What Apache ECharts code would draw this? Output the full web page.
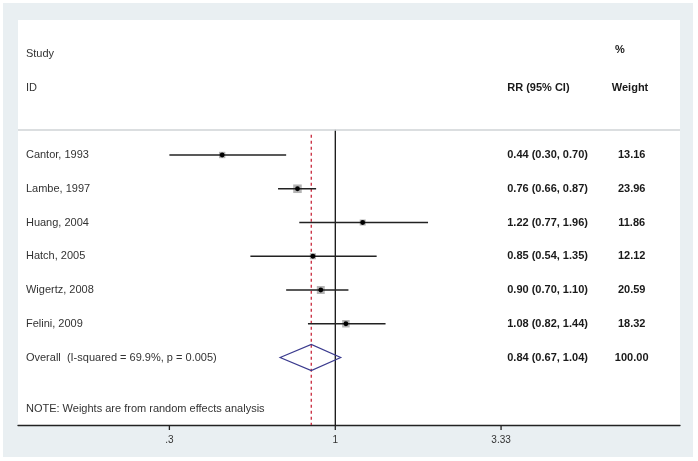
<!DOCTYPE html>
<html>
<head>
<meta charset="utf-8">
<script src="https://cdn.jsdelivr.net/npm/echarts@6/dist/echarts.min.js"></script>
<style>
html,body{margin:0;padding:0;background:#fff;}
#chart{width:698px;height:461px;}
</style>
</head>
<body>
<div id="chart"></div>
<script>
// ---- data ----
var studies = ['Cantor, 1993','Lambe, 1997','Huang, 2004','Hatch, 2005','Wigertz, 2008','Felini, 2009'];
var rr      = [0.44, 0.76, 1.22, 0.85, 0.90, 1.08];
var ciLow   = [0.30, 0.66, 0.77, 0.54, 0.70, 0.82];
var ciHigh  = [0.70, 0.87, 1.96, 1.35, 1.10, 1.44];
var weights = ['13.16','23.96','11.86','12.12','20.59','18.32'];
var overallLabel = 'Overall  (I-squared = 69.9%, p = 0.005)';
var overallRR = 0.84, overallLow = 0.67, overallHigh = 1.04, overallWeight = '100.00';
var tickValues = [0.3, 1, 3.33];
var tickLabels = ['.3', '1', '3.33'];
var noteText = 'NOTE: Weights are from random effects analysis';

// ---- layout helpers (rows on a hidden linear y axis) ----
var firstRow = 4, overallRow = 10, bottomRow = 12;
var FONT = 'Liberation Sans, Arial, sans-serif';
function fmt(v){ return v.toFixed(2); }

var studyData = studies.map(function(s,i){
  return [ciLow[i], firstRow+i, ciHigh[i], rr[i], parseFloat(weights[i])];
});

// table texts: [xPercent, row, text, align, bold]
var COL_STUDY = 1.2, COL_RR = 73.9, COL_W = 92.7, COL_WH = 89.7;
var texts = [
  [COL_STUDY, 1, 'Study', 'left', 0],
  [COL_STUDY, 2, 'ID', 'left', 0],
  [COL_RR, 2, 'RR (95% CI)', 'left', 1],
  [90.2, 0.89, '%', 'left', 1],
  [COL_WH, 2, 'Weight', 'left', 1]
];
studies.forEach(function(s,i){
  texts.push([COL_STUDY, firstRow+i, s, 'left', 0]);
  texts.push([COL_RR, firstRow+i, fmt(rr[i])+' ('+fmt(ciLow[i])+', '+fmt(ciHigh[i])+')', 'left', 1]);
  texts.push([COL_W, firstRow+i, weights[i], 'center', 1]);
});
texts.push([COL_STUDY, overallRow, overallLabel, 'left', 0]);
texts.push([COL_RR, overallRow, fmt(overallRR)+' ('+fmt(overallLow)+', '+fmt(overallHigh)+')', 'left', 1]);
texts.push([COL_W, overallRow, overallWeight, 'center', 1]);
texts.push([COL_STUDY, 11.53, noteText, 'left', 0]);

var chart = echarts.init(document.getElementById('chart'), null, {renderer:'canvas'});

var option = {
  backgroundColor: '#ffffff',
  animation: false,
  graphic: [{
    type: 'rect', z: -10, silent: true,
    shape: {x: 3, y: 3, width: 690, height: 454},
    style: {fill: '#e9eff2'}
  }],
  grid: {left: 18, right: 18, top: 20, bottom: 36, show: true, backgroundColor: '#ffffff', borderWidth: 0},
  xAxis: [{
    type: 'log', logBase: Math.E, min: 0.1, max: 12.2,
    position: 'bottom',
    axisLine: {show: true, onZero: false, lineStyle: {color: '#222', width: 1.3}},
    axisTick: {show: false}, axisLabel: {show: false}, splitLine: {show: false}
  }, {
    type: 'value', min: 0, max: 100, show: false
  }],
  yAxis: [{
    type: 'value', min: 0, max: bottomRow, inverse: true, show: false
  }],
  series: [
    // separator line
    {
      type: 'line', data: [], xAxisIndex: 1, yAxisIndex: 0,
      markLine: {silent: true, symbol: 'none', label: {show: false},
        lineStyle: {color: '#cfd3d6', width: 1.5, type: 'solid'},
        data: [{yAxis: 3.25}]}
    },
    // null line at 1
    {
      type: 'line', xAxisIndex: 0, yAxisIndex: 0, symbol: 'none',
      lineStyle: {color: '#111', width: 1.3},
      data: [[1, 3.25], [1, bottomRow]], z: 3
    },
    // overall dashed line
    {
      type: 'line', xAxisIndex: 0, yAxisIndex: 0, symbol: 'none',
      lineStyle: {color: '#c8283c', width: 1.3, type: [3, 3]},
      data: [[overallRR, 3.4], [overallRR, bottomRow]], z: 3
    },
    // study CI + weighted box + point
    {
      type: 'custom', xAxisIndex: 0, yAxisIndex: 0, z: 5,
      encode: {x: [0, 2], y: 1},
      data: studyData,
      renderItem: function(params, api){
        var lo = api.coord([api.value(0), api.value(1)]);
        var hi = api.coord([api.value(2), api.value(1)]);
        var pt = api.coord([api.value(3), api.value(1)]);
        var s = 1.75 * Math.sqrt(api.value(4));
        return {type: 'group', children: [
          {type: 'rect', shape: {x: pt[0]-s/2, y: pt[1]-s/2, width: s, height: s},
            style: {fill: '#b4b4b4'}},
          {type: 'line', shape: {x1: lo[0], y1: lo[1], x2: hi[0], y2: hi[1]},
            style: {stroke: '#222', lineWidth: 1.3}},
          {type: 'circle', shape: {cx: pt[0], cy: pt[1], r: 2.4}, style: {fill: '#000'}}
        ]};
      }
    },
    // overall diamond
    {
      type: 'custom', xAxisIndex: 0, yAxisIndex: 0, z: 6,
      encode: {x: [0, 2], y: 1},
      data: [[overallLow, overallRow, overallHigh, overallRR]],
      renderItem: function(params, api){
        var r = api.value(1);
        var p1 = api.coord([api.value(0), r]);
        var p2 = api.coord([api.value(3), r - 0.39]);
        var p3 = api.coord([api.value(2), r]);
        var p4 = api.coord([api.value(3), r + 0.39]);
        return {type: 'polygon', shape: {points: [p1, p2, p3, p4]},
          style: {fill: 'none', stroke: '#3a3a8e', lineWidth: 1.2}};
      }
    },
    // axis ticks and labels
    {
      type: 'custom', xAxisIndex: 0, yAxisIndex: 0, z: 6,
      data: tickValues.map(function(v, i){ return [v, bottomRow]; }),
      renderItem: function(params, api){
        var p = api.coord([api.value(0), api.value(1)]);
        return {type: 'group', children: [
          {type: 'line', shape: {x1: p[0], y1: p[1], x2: p[0], y2: p[1]+5}, style: {stroke: '#222', lineWidth: 1.3}},
          {type: 'text', x: p[0], y: p[1]+15, style: {text: tickLabels[params.dataIndex], fill: '#333',
            font: '10px ' + FONT, textAlign: 'center', textVerticalAlign: 'middle'}}
        ]};
      }
    },
    // table texts
    {
      type: 'custom', xAxisIndex: 1, yAxisIndex: 0, z: 7,
      data: texts.map(function(t){ return [t[0], t[1]]; }),
      renderItem: function(params, api){
        var t = texts[params.dataIndex];
        var p = api.coord([api.value(0), api.value(1)]);
        return {type: 'text', x: p[0], y: p[1], style: {
          text: t[2], fill: t[4] ? '#1a1a1a' : '#333',
          font: (t[4] ? 'bold ' : '') + '11px ' + FONT,
          textAlign: t[3], textVerticalAlign: 'middle'}};
      }
    }
  ]
};
chart.setOption(option);
</script>
</body>
</html>
